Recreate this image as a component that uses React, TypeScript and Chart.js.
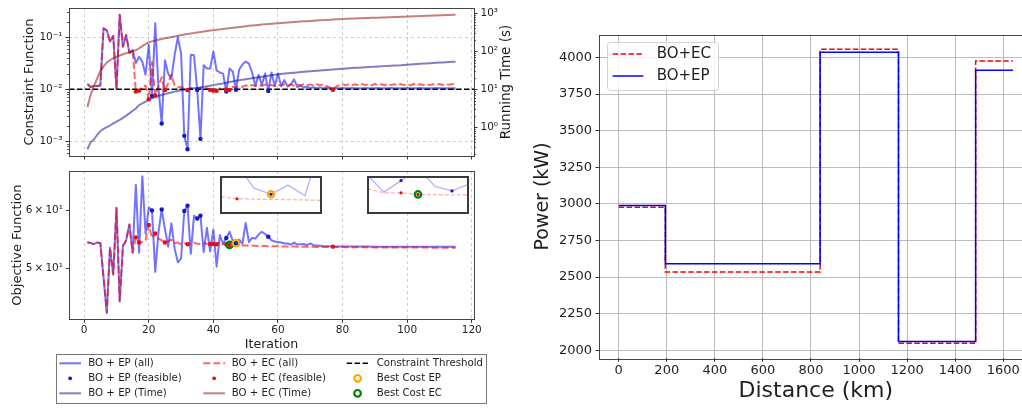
import React, { useEffect, useRef } from 'react';
import { Chart, registerables } from 'chart.js';

Chart.register(...registerables);

// ---------------- data ----------------
const ITERATIONS: number[] = Array.from({ length: 115 }, (_, k) => k + 1);

const EP_CONSTRAINT = [
  0.0127, 0.011, 0.0116, 0.0116, 0.0118, 0.149, 0.135, 0.082, 0.106, 0.0101,
  0.27, 0.066, 0.11, 0.05, 0.057, 0.032, 0.042, 0.034, 0.019, 0.071,
  0.0074, 0.186, 0.0105, 0.0022, 0.036, 0.02, 0.016, 0.045, 0.1, 0.049,
  0.00127, 0.0007, 0.046, 0.045, 0.0097, 0.00111, 0.029, 0.025, 0.025, 0.053,
  0.023, 0.021, 0.02, 0.009, 0.025, 0.022, 0.0098, 0.024, 0.03, 0.034,
  0.031, 0.021, 0.0115, 0.019, 0.012, 0.02, 0.0092, 0.021, 0.0115, 0.02,
  0.0115, 0.015, 0.0112, 0.0125, 0.0155, 0.011, 0.0118, 0.0108, 0.0112, 0.0106,
  0.0109, 0.0105, 0.0108, 0.0104, 0.0107, 0.0104, 0.0106, 0.0105, 0.0104, 0.0106,
  0.0105, 0.0104, 0.0106, 0.0105, 0.0104, 0.0105, 0.0106, 0.0104, 0.0105, 0.0104,
  0.0106, 0.0105, 0.0104, 0.0105, 0.0106, 0.0104, 0.0105, 0.0104, 0.0105, 0.0106,
  0.0104, 0.0105, 0.0104, 0.0106, 0.0105, 0.0104, 0.0105, 0.0104, 0.0106, 0.0105,
  0.0104, 0.0105, 0.0105, 0.0104, 0.0105,
];

const EC_CONSTRAINT = [
  0.0127, 0.011, 0.0116, 0.0116, 0.0118, 0.149, 0.135, 0.082, 0.106, 0.0101,
  0.27, 0.066, 0.11, 0.05, 0.057, 0.009, 0.0094, 0.0112, 0.0118, 0.0064,
  0.033, 0.0076, 0.0115, 0.017, 0.0096, 0.013, 0.019, 0.0118, 0.0108, 0.0112,
  0.0105, 0.0096, 0.0106, 0.0103, 0.0104, 0.0107, 0.0103, 0.0105, 0.0097, 0.0094,
  0.0093, 0.0104, 0.0107, 0.0098, 0.0097, 0.0112, 0.0108, 0.0116, 0.0111, 0.0119,
  0.0113, 0.0121, 0.0115, 0.0122, 0.0116, 0.0123, 0.0117, 0.0121, 0.0115, 0.0122,
  0.0117, 0.0124, 0.0118, 0.0123, 0.0117, 0.0124, 0.0118, 0.0125, 0.0119, 0.0124,
  0.0118, 0.0125, 0.0119, 0.0124, 0.0115, 0.011, 0.0097, 0.0112, 0.012, 0.0125,
  0.0119, 0.0126, 0.012, 0.0125, 0.0119, 0.0126, 0.012, 0.0125, 0.0119, 0.0126,
  0.012, 0.0125, 0.0119, 0.0126, 0.012, 0.0125, 0.0119, 0.0126, 0.012, 0.0125,
  0.0119, 0.0126, 0.012, 0.0125, 0.0121, 0.0126, 0.012, 0.0125, 0.0121, 0.0126,
  0.0121, 0.0125, 0.0122, 0.0126, 0.0125,
];

const EP_TIME = [
  0.26, 0.4, 0.47, 0.62, 0.78, 0.9, 1.0, 1.1, 1.25, 1.4,
  1.55, 1.75, 2.0, 2.3, 2.7, 3.1, 3.8, 4.2, 4.7, 5.2,
  5.7, 6.2, 6.6, 7.0, 7.4, 7.8, 8.2, 8.6, 9.0, 9.3,
  9.6, 9.9, 10.2, 10.5, 10.8, 11.1, 11.5, 11.9, 12.3, 12.8,
  13.2, 13.7, 14.2, 14.8, 15.4, 16.0, 16.6, 17.2, 17.7, 18.2,
  18.7, 19.3, 19.9, 20.5, 21.2, 21.9, 22.6, 23.3, 24.0, 24.7,
  25.2, 25.7, 26.2, 26.7, 27.2, 27.7, 28.2, 28.7, 29.2, 29.7,
  30.2, 30.7, 31.2, 31.7, 32.2, 32.7, 33.2, 33.7, 34.2, 34.7,
  35.1, 35.6, 36.0, 36.5, 36.9, 37.4, 37.8, 38.3, 38.7, 39.2,
  39.6, 40.1, 40.5, 41.0, 41.4, 41.9, 42.3, 42.8, 43.6, 44.2,
  44.8, 45.4, 46.0, 46.6, 47.2, 47.8, 48.4, 49.0, 49.6, 50.2,
  50.8, 51.4, 52.0, 52.5, 53.0,
];

const EC_TIME = [
  3.4, 7.1, 12, 19, 30, 40, 50, 58, 65, 71,
  77, 83, 89, 95, 100, 106, 120, 137, 155, 172,
  182, 192, 201, 210, 219, 228, 237, 246, 255, 265,
  275, 285, 295, 305, 314, 323, 332, 341, 350, 359,
  368, 377, 386, 395, 404, 414, 424, 434, 445, 456,
  467, 476, 486, 495, 504, 513, 522, 531, 540, 549,
  557, 565, 573, 581, 589, 597, 605, 613, 621, 629,
  637, 645, 653, 661, 669, 677, 685, 693, 700, 708,
  714, 719, 725, 730, 736, 741, 747, 752, 758, 763,
  769, 774, 780, 785, 791, 796, 802, 807, 813, 820,
  826, 833, 840, 846, 853, 860, 866, 873, 880, 886,
  893, 900, 906, 913, 920,
];

const EP_OBJECTIVE = [
  54.25, 54.1, 53.95, 54.2, 54.1, 48.5, 43.4, 53.3, 49.0, 60.5,
  45.0, 53.6, 54.6, 57.4, 52.5, 65.1, 52.5, 66.9, 55.8, 60.6,
  60.0, 49.4, 56.0, 60.2, 56.6, 53.5, 57.6, 53.2, 50.9, 51.5,
  59.9, 60.9, 52.3, 59.0, 58.5, 59.0, 52.6, 56.8, 52.7, 56.5,
  50.2, 55.5, 54.0, 55.0, 56.1, 54.5, 54.1, 54.7, 54.0, 57.7,
  54.3, 55.0, 54.9, 55.6, 56.1, 55.7, 55.2, 54.6, 54.4, 54.3,
  54.2, 54.05, 54.05, 53.85, 54.2, 53.85, 53.9, 53.95, 53.75, 54.05,
  53.75, 53.7, 53.65, 53.6, 53.58, 53.56, 53.55, 53.55, 53.54, 53.54,
  53.53, 53.53, 53.52, 53.52, 53.52, 53.51, 53.51, 53.51, 53.5, 53.5,
  53.5, 53.5, 53.5, 53.5, 53.5, 53.5, 53.5, 53.5, 53.5, 53.5,
  53.5, 53.5, 53.5, 53.5, 53.5, 53.5, 53.5, 53.5, 53.5, 53.5,
  53.5, 53.5, 53.5, 53.5, 53.5,
];

const EC_OBJECTIVE = [
  54.25, 54.1, 53.95, 54.2, 54.1, 48.5, 43.4, 53.3, 49.0, 60.5,
  45.0, 53.6, 54.6, 57.4, 52.5, 55.1, 54.2, 54.3, 54.6, 57.3,
  55.0, 55.8, 54.9, 54.6, 54.2, 54.4, 54.7, 54.1, 54.2, 53.95,
  54.1, 53.9, 54.05, 54.2, 54.0, 53.95, 54.1, 54.0, 53.95, 53.95,
  53.9, 54.3, 53.93, 53.94, 53.8, 53.78, 53.76, 53.75, 53.72, 53.7,
  53.68, 53.66, 53.65, 53.63, 53.62, 53.6, 53.59, 53.58, 53.57, 53.56,
  53.55, 53.54, 53.53, 53.52, 53.51, 53.5, 53.49, 53.49, 53.48, 53.47,
  53.47, 53.46, 53.46, 53.45, 53.45, 53.44, 53.5, 53.44, 53.43, 53.43,
  53.42, 53.42, 53.41, 53.41, 53.4, 53.4, 53.4, 53.39, 53.39, 53.38,
  53.38, 53.38, 53.37, 53.37, 53.37, 53.36, 53.36, 53.36, 53.35, 53.35,
  53.35, 53.35, 53.34, 53.34, 53.34, 53.34, 53.33, 53.33, 53.33, 53.33,
  53.33, 53.32, 53.32, 53.32, 53.32,
];

const EP_FEASIBLE_ITERS = [21, 24, 31, 32, 35, 36, 44, 47, 57];
const EC_FEASIBLE_ITERS = [16, 17, 20, 22, 25, 32, 39, 40, 41, 44, 45, 77];
const BEST_EP_ITER = 47;
const BEST_EC_ITER = 45;
const CONSTRAINT_THRESHOLD = 0.01;

const ITER_TICKS = [0, 20, 40, 60, 80, 100, 120];
const CONSTRAINT_TICKS = [0.001, 0.01, 0.1];
const CONSTRAINT_TICK_LABELS = ['10⁻³', '10⁻²', '10⁻¹'];
const TIME_TICKS = [1, 10, 100, 1000];
const TIME_TICK_LABELS = ['10⁰', '10¹', '10²', '10³'];
const OBJECTIVE_TICKS = [50, 60];
const OBJECTIVE_TICK_LABELS = ['5\u2009×\u200910¹', '6\u2009×\u200910¹'];

const DISTANCE_KM = [0, 194, 838, 1164, 1485, 1640];
const POWER_EC = [2977, 2535, 4055, 2047, 3975, 3975];
const POWER_EP = [2988, 2590, 4035, 2060, 3912, 3912];
const DISTANCE_TICKS = [0, 200, 400, 600, 800, 1000, 1200, 1400, 1600];
const POWER_TICKS = [2000, 2250, 2500, 2750, 3000, 3250, 3500, 3750, 4000];

// ---------------- styles ----------------
const FONT = '"DejaVu Sans", sans-serif';
Chart.defaults.font.family = FONT;
Chart.defaults.color = '#222';

const TEXT = '#1e1e1e';
const TICK = '#333';
const FRAME = '#444';
const GRID_DASH = 'rgba(170,170,170,0.7)';
const GRID_SOLID = 'rgba(176,176,176,0.85)';

const EP_LINE = 'rgba(0,0,255,0.55)';
const EC_LINE = 'rgba(255,0,0,0.6)';
const EP_DOT = 'rgb(25,25,190)';
const EC_DOT = 'rgb(225,15,15)';
const EP_TIME_COLOR = 'rgba(0,0,139,0.5)';
const EC_TIME_COLOR = 'rgba(139,0,0,0.5)';
const BEST_EP_COLOR = '#ffa500';
const BEST_EC_COLOR = '#008000';
const DASH = [7, 3];
const THRESH_DASH = [5.5, 2.4];

const X_MIN = -4.7;
const X_MAX = 120.7;

// ---------------- helpers ----------------
const series = (ys: number[]) => ITERATIONS.map((x, k) => ({ x, y: ys[k] }));
const pick = (ys: number[], iters: number[]) => iters.map((i) => ({ x: i, y: ys[i - 1] }));

function fixSize(w?: number, h?: number) {
  return (s: any) => {
    if (w !== undefined) s.width = w;
    if (h !== undefined) s.height = h;
    s.paddingLeft = 0;
    s.paddingRight = 0;
    s.paddingTop = 0;
    s.paddingBottom = 0;
  };
}
function setTicks(values: number[]) {
  return (s: any) => {
    s.ticks = values.map((v) => ({ value: v }));
  };
}
function labelsFrom(values: number[], labels: string[]) {
  return (v: any) => {
    const k = values.indexOf(v);
    return k >= 0 ? labels[k] : '';
  };
}
const plainNumber = (v: any) => String(v);

function logMinor(min: number, max: number, majors: number[]) {
  const out: number[] = [];
  for (let e = Math.floor(Math.log10(min)); e <= Math.ceil(Math.log10(max)); e++) {
    for (let m = 2; m <= 9; m++) {
      const v = m * Math.pow(10, e);
      if (v >= min && v <= max && majors.indexOf(v) < 0) out.push(v);
    }
  }
  return out;
}

const framePlugin = {
  id: 'frame',
  afterDatasetsDraw(chart: any) {
    const { ctx, chartArea: a } = chart;
    ctx.save();
    ctx.strokeStyle = FRAME;
    ctx.lineWidth = 1;
    ctx.strokeRect(Math.round(a.left) + 0.5, Math.round(a.top) + 0.5, Math.round(a.right - a.left), Math.round(a.bottom - a.top));
    ctx.restore();
  },
};

function minorTicksPlugin(specs: { axis: string; values: number[]; side: 'left' | 'right' }[]) {
  return {
    id: 'minorTicks',
    afterDraw(chart: any) {
      const ctx = chart.ctx;
      ctx.save();
      ctx.strokeStyle = TICK;
      ctx.lineWidth = 0.8;
      for (const s of specs) {
        const sc = chart.scales[s.axis];
        for (const v of s.values) {
          const y = Math.round(sc.getPixelForValue(v)) + 0.5;
          const x0 = s.side === 'left' ? chart.chartArea.left : chart.chartArea.right;
          const x1 = s.side === 'left' ? x0 - 2 : x0 + 2;
          ctx.beginPath();
          ctx.moveTo(x0, y);
          ctx.lineTo(x1, y);
          ctx.stroke();
        }
      }
      ctx.restore();
    },
  };
}

type LegendEntry = { label: string; kind: 'line' | 'dot' | 'ring'; color: string; dash?: number[]; width?: number };

const LEFT_LEGEND: LegendEntry[][] = [
  [
    { label: 'BO + EP (all)', kind: 'line', color: EP_LINE, width: 2 },
    { label: 'BO + EP (feasible)', kind: 'dot', color: EP_DOT },
    { label: 'BO + EP (Time)', kind: 'line', color: EP_TIME_COLOR, width: 2 },
  ],
  [
    { label: 'BO + EC (all)', kind: 'line', color: EC_LINE, dash: DASH, width: 2 },
    { label: 'BO + EC (feasible)', kind: 'dot', color: EC_DOT },
    { label: 'BO + EC (Time)', kind: 'line', color: EC_TIME_COLOR, width: 2 },
  ],
  [
    { label: 'Constraint Threshold', kind: 'line', color: '#000', dash: THRESH_DASH, width: 1.5 },
    { label: 'Best Cost EP', kind: 'ring', color: BEST_EP_COLOR },
    { label: 'Best Cost EC', kind: 'ring', color: BEST_EC_COLOR },
  ],
];

function drawLegendEntry(ctx: CanvasRenderingContext2D, e: LegendEntry, hx: number, hlen: number, tx: number, y: number, font: string) {
  ctx.save();
  if (e.kind === 'line') {
    ctx.strokeStyle = e.color;
    ctx.lineWidth = e.width || 1.5;
    ctx.setLineDash(e.dash || []);
    ctx.beginPath();
    ctx.moveTo(hx, y);
    ctx.lineTo(hx + hlen, y);
    ctx.stroke();
  } else if (e.kind === 'dot') {
    ctx.fillStyle = e.color;
    ctx.beginPath();
    ctx.arc(hx + hlen / 2, y, 1.9, 0, Math.PI * 2);
    ctx.fill();
  } else {
    ctx.strokeStyle = e.color;
    ctx.lineWidth = 2.2;
    ctx.beginPath();
    ctx.arc(hx + hlen / 2, y, 3.3, 0, Math.PI * 2);
    ctx.stroke();
  }
  ctx.setLineDash([]);
  ctx.fillStyle = TEXT;
  ctx.font = font;
  ctx.textAlign = 'left';
  ctx.textBaseline = 'middle';
  ctx.fillText(e.label, tx, y);
  ctx.restore();
}

const leftLegendPlugin = {
  id: 'leftLegend',
  afterDraw(chart: any) {
    const ctx = chart.ctx as CanvasRenderingContext2D;
    const offY = 165;
    ctx.save();
    ctx.fillStyle = 'rgba(255,255,255,0.9)';
    ctx.fillRect(56.5, 354.5 - offY, 430, 49);
    ctx.strokeStyle = '#777';
    ctx.lineWidth = 1;
    ctx.strokeRect(56.5, 354.5 - offY, 430, 49);
    ctx.restore();
    const hx = [59.3, 203.3, 346.7];
    const tx = [88.3, 231.7, 376.7];
    const rows = [363.3, 378.3, 393.3];
    LEFT_LEGEND.forEach((col, c) =>
      col.forEach((e, r) => drawLegendEntry(ctx, e, hx[c], 21.7, tx[c], rows[r] - offY, `10.2px ${FONT}`))
    );
  },
};

const RIGHT_LEGEND: LegendEntry[] = [
  { label: 'BO+EC', kind: 'line', color: '#ff0000', dash: [5.5, 2.4], width: 1.5 },
  { label: 'BO+EP', kind: 'line', color: '#0000ff', width: 1.5 },
];

function roundRect(ctx: CanvasRenderingContext2D, x: number, y: number, w: number, h: number, r: number) {
  ctx.beginPath();
  ctx.moveTo(x + r, y);
  ctx.lineTo(x + w - r, y);
  ctx.arcTo(x + w, y, x + w, y + r, r);
  ctx.lineTo(x + w, y + h - r);
  ctx.arcTo(x + w, y + h, x + w - r, y + h, r);
  ctx.lineTo(x + r, y + h);
  ctx.arcTo(x, y + h, x, y + h - r, r);
  ctx.lineTo(x, y + r);
  ctx.arcTo(x, y, x + r, y, r);
  ctx.closePath();
}

const rightLegendPlugin = {
  id: 'rightLegend',
  afterDraw(chart: any) {
    const ctx = chart.ctx as CanvasRenderingContext2D;
    ctx.save();
    roundRect(ctx, 77.5, 42.5, 111, 48, 3);
    ctx.fillStyle = 'rgba(255,255,255,0.85)';
    ctx.fill();
    ctx.strokeStyle = '#d3d3d3';
    ctx.lineWidth = 1;
    ctx.stroke();
    ctx.restore();
    const rows = [54, 76];
    RIGHT_LEGEND.forEach((e, r) => drawLegendEntry(ctx, e, 82.7, 30.6, 126.7, rows[r], `15px ${FONT}`));
  },
};

const runningTimeTitlePlugin = {
  id: 'rtTitle',
  afterDraw(chart: any) {
    const ctx = chart.ctx as CanvasRenderingContext2D;
    const a = chart.chartArea;
    ctx.save();
    ctx.translate(506, (a.top + a.bottom) / 2);
    ctx.rotate(-Math.PI / 2);
    ctx.fillStyle = TEXT;
    ctx.font = `13.5px ${FONT}`;
    ctx.textAlign = 'center';
    ctx.textBaseline = 'middle';
    ctx.fillText('Running Time (s)', 0, 0);
    ctx.restore();
  },
};

const insetBgPlugin = {
  id: 'insetBg',
  beforeDraw(chart: any) {
    const ctx = chart.ctx;
    ctx.save();
    ctx.fillStyle = '#fff';
    ctx.fillRect(0, 0, chart.width, chart.height);
    ctx.restore();
  },
  afterDraw(chart: any) {
    const ctx = chart.ctx;
    ctx.save();
    ctx.strokeStyle = '#3a3a3a';
    ctx.lineWidth = 2;
    ctx.strokeRect(1, 1, chart.width - 2, chart.height - 2);
    ctx.restore();
  },
};

const baseOptions = {
  responsive: false,
  animation: false as const,
  events: [] as any[],
  plugins: { legend: { display: false }, tooltip: { enabled: false } },
};

const lineDs = (extra: any) => ({ pointRadius: 0, pointHoverRadius: 0, fill: false, tension: 0, borderJoinStyle: 'round', ...extra });
const dotDs = (extra: any) => ({ showLine: false, pointRadius: 2.2, pointHoverRadius: 2.2, pointBorderWidth: 0, ...extra });

// ---------------- chart configs ----------------
const C_MIN = 5.2e-4;
const C_MAX = 0.365;
const T_MIN = 0.173;
const T_MAX = 1380;

function topConfig(): any {
  return {
    type: 'line',
    data: {
      datasets: [
        dotDs({ data: pick(EC_CONSTRAINT, EC_FEASIBLE_ITERS), pointBackgroundColor: EC_DOT, yAxisID: 'y', order: 1 }),
        dotDs({ data: pick(EP_CONSTRAINT, EP_FEASIBLE_ITERS), pointBackgroundColor: EP_DOT, yAxisID: 'y', order: 2 }),
        lineDs({ data: series(EP_TIME), borderColor: EP_TIME_COLOR, borderWidth: 2, yAxisID: 'y2', order: 3 }),
        lineDs({ data: series(EC_TIME), borderColor: EC_TIME_COLOR, borderWidth: 2, yAxisID: 'y2', order: 4 }),
        lineDs({
          data: [{ x: X_MIN, y: CONSTRAINT_THRESHOLD }, { x: X_MAX, y: CONSTRAINT_THRESHOLD }],
          borderColor: '#000', borderWidth: 1.6, borderDash: THRESH_DASH, yAxisID: 'y', order: 5,
        }),
        lineDs({ data: series(EC_CONSTRAINT), borderColor: EC_LINE, borderWidth: 2, borderDash: DASH, yAxisID: 'y', order: 6 }),
        lineDs({ data: series(EP_CONSTRAINT), borderColor: EP_LINE, borderWidth: 2, yAxisID: 'y', order: 7 }),
      ],
    },
    options: {
      ...baseOptions,
      layout: { padding: { top: 8, left: 0, right: 0, bottom: 0 }, autoPadding: false },
      scales: {
        x: {
          type: 'linear', min: X_MIN, max: X_MAX,
          afterBuildTicks: setTicks(ITER_TICKS), afterFit: fixSize(undefined, 8),
          ticks: { display: false },
          grid: { color: GRID_DASH, lineWidth: 0.8, tickColor: TICK, tickLength: 3.5, tickWidth: 1 },
          border: { display: false, dash: [3, 3] },
        },
        y: {
          type: 'logarithmic', position: 'left', min: C_MIN, max: C_MAX,
          afterBuildTicks: setTicks(CONSTRAINT_TICKS), afterFit: fixSize(69),
          ticks: { callback: labelsFrom(CONSTRAINT_TICKS, CONSTRAINT_TICK_LABELS), font: { size: 10.5 }, color: TEXT, padding: 3, autoSkip: false },
          grid: { color: GRID_DASH, lineWidth: 0.8, tickColor: TICK, tickLength: 3.5, tickWidth: 1 },
          border: { display: false, dash: [3, 3] },
          title: { display: true, text: 'Constraint Function', font: { size: 13 }, color: TEXT, padding: { top: 22, bottom: 0 } },
        },
        y2: {
          type: 'logarithmic', position: 'right', min: T_MIN, max: T_MAX,
          afterBuildTicks: setTicks(TIME_TICKS), afterFit: fixSize(56),
          ticks: { callback: labelsFrom(TIME_TICKS, TIME_TICK_LABELS), font: { size: 10.5 }, color: TEXT, padding: 3, autoSkip: false },
          grid: { drawOnChartArea: false, tickColor: TICK, tickLength: 3.5, tickWidth: 1 },
          border: { display: false },
        },
      },
    },
    plugins: [
      framePlugin,
      minorTicksPlugin([
        { axis: 'y', values: logMinor(C_MIN, C_MAX, CONSTRAINT_TICKS), side: 'left' },
        { axis: 'y2', values: logMinor(T_MIN, T_MAX, TIME_TICKS), side: 'right' },
      ]),
      runningTimeTitlePlugin,
    ],
  };
}

function bottomConfig(): any {
  return {
    type: 'line',
    data: {
      datasets: [
        dotDs({ data: pick(EP_OBJECTIVE, [BEST_EP_ITER]), pointRadius: 3.3, pointBorderWidth: 2.2, pointBorderColor: BEST_EP_COLOR, pointBackgroundColor: 'rgba(0,0,0,0)', order: 0 }),
        dotDs({ data: pick(EC_OBJECTIVE, [BEST_EC_ITER]), pointRadius: 3.3, pointBorderWidth: 2.2, pointBorderColor: BEST_EC_COLOR, pointBackgroundColor: 'rgba(0,0,0,0)', order: 0 }),
        dotDs({ data: pick(EC_OBJECTIVE, EC_FEASIBLE_ITERS), pointBackgroundColor: EC_DOT, order: 1 }),
        dotDs({ data: pick(EP_OBJECTIVE, EP_FEASIBLE_ITERS), pointBackgroundColor: EP_DOT, order: 2 }),
        lineDs({ data: series(EC_OBJECTIVE), borderColor: EC_LINE, borderWidth: 2, borderDash: DASH, order: 3 }),
        lineDs({ data: series(EP_OBJECTIVE), borderColor: EP_LINE, borderWidth: 2, order: 4 }),
      ],
    },
    options: {
      ...baseOptions,
      layout: { padding: { top: 6, left: 0, right: 56, bottom: 56 }, autoPadding: false },
      scales: {
        x: {
          type: 'linear', min: X_MIN, max: X_MAX,
          afterBuildTicks: setTicks(ITER_TICKS), afterFit: fixSize(undefined, 32.7),
          ticks: { font: { size: 10.5 }, color: TEXT, padding: 1, autoSkip: false, maxRotation: 0 },
          grid: { color: GRID_DASH, lineWidth: 0.8, tickColor: TICK, tickLength: 3.5, tickWidth: 1 },
          border: { display: false, dash: [3, 3] },
          title: { display: true, text: 'Iteration', font: { size: 12.6 }, color: TEXT, padding: { top: 0, bottom: 0 } },
        },
        y: {
          type: 'logarithmic', position: 'left', min: 42.5, max: 68.0,
          afterBuildTicks: setTicks(OBJECTIVE_TICKS), afterFit: fixSize(69),
          ticks: { callback: labelsFrom(OBJECTIVE_TICKS, OBJECTIVE_TICK_LABELS), font: { size: 10.5 }, color: TEXT, padding: 3, autoSkip: false },
          grid: { drawOnChartArea: false, tickColor: TICK, tickLength: 3, tickWidth: 1 },
          border: { display: false },
          title: { display: true, text: 'Objective Function', font: { size: 13 }, color: TEXT, padding: { top: 10, bottom: 0 } },
        },
      },
    },
    plugins: [framePlugin, leftLegendPlugin],
  };
}

function insetConfig(xMin: number, xMax: number, yMin: number, yMax: number, bestIter: number, bestSeries: number[], bestColor: string): any {
  return {
    type: 'line',
    data: {
      datasets: [
        dotDs({ data: pick(bestSeries, [bestIter]), pointRadius: 3.2, pointBorderWidth: 2.2, pointBorderColor: bestColor, pointBackgroundColor: 'rgba(0,0,0,0)', order: 0 }),
        dotDs({ data: pick(EC_OBJECTIVE, EC_FEASIBLE_ITERS), pointRadius: 1.6, pointBackgroundColor: EC_DOT, order: 1 }),
        dotDs({ data: pick(EP_OBJECTIVE, EP_FEASIBLE_ITERS), pointRadius: 1.6, pointBackgroundColor: EP_DOT, order: 2 }),
        lineDs({ data: series(EC_OBJECTIVE), borderColor: 'rgba(255,0,0,0.3)', borderWidth: 1.3, borderDash: [4, 2], order: 3 }),
        lineDs({ data: series(EP_OBJECTIVE), borderColor: 'rgba(0,0,255,0.3)', borderWidth: 1.3, order: 4 }),
      ],
    },
    options: {
      ...baseOptions,
      layout: { padding: 0, autoPadding: false },
      scales: {
        x: { type: 'linear', display: false, min: xMin, max: xMax },
        y: { type: 'linear', display: false, min: yMin, max: yMax },
      },
    },
    plugins: [insetBgPlugin],
  };
}

function rightConfig(): any {
  const stepDs = (xs: number[], ys: number[], extra: any) =>
    lineDs({ data: xs.map((x, k) => ({ x, y: ys[k] })), stepped: 'before', borderWidth: 1.5, borderJoinStyle: 'miter', ...extra });
  return {
    type: 'line',
    data: {
      datasets: [
        stepDs(DISTANCE_KM, POWER_EP, { borderColor: '#0000ff', order: 0 }),
        stepDs(DISTANCE_KM, POWER_EC, { borderColor: '#ff0000', borderDash: [5.5, 2.4], order: 1 }),
      ],
    },
    options: {
      ...baseOptions,
      layout: { padding: { top: 34.7, left: 0, right: 7.4, bottom: 0 }, autoPadding: false },
      scales: {
        x: {
          type: 'linear', min: -82, max: 1722,
          afterBuildTicks: setTicks(DISTANCE_TICKS), afterFit: fixSize(undefined, 49.7),
          ticks: { callback: plainNumber, font: { size: 13 }, color: TEXT, padding: 1, autoSkip: false, maxRotation: 0 },
          grid: { color: GRID_SOLID, lineWidth: 1, tickColor: TICK, tickLength: 3.5, tickWidth: 1 },
          border: { display: false },
          title: { display: true, text: 'Distance (km)', font: { size: 22 }, color: TEXT, padding: { top: 0, bottom: 4 } },
        },
        y: {
          type: 'linear', min: 1945, max: 4155,
          afterBuildTicks: setTicks(POWER_TICKS), afterFit: fixSize(69),
          ticks: { callback: plainNumber, font: { size: 13 }, color: TEXT, padding: 3.5, autoSkip: false },
          grid: { color: GRID_SOLID, lineWidth: 1, tickColor: TICK, tickLength: 3.5, tickWidth: 1 },
          border: { display: false },
          title: { display: true, text: 'Power (kW)', font: { size: 19 }, color: TEXT, padding: { top: 1.3, bottom: 0 } },
        },
      },
    },
    plugins: [framePlugin, rightLegendPlugin],
  };
}

// ---------------- component ----------------
export default function App() {
  const topRef = useRef<HTMLCanvasElement>(null);
  const bottomRef = useRef<HTMLCanvasElement>(null);
  const inset1Ref = useRef<HTMLCanvasElement>(null);
  const inset2Ref = useRef<HTMLCanvasElement>(null);
  const rightRef = useRef<HTMLCanvasElement>(null);

  useEffect(() => {
    const charts: Chart[] = [];
    charts.push(new Chart(topRef.current as HTMLCanvasElement, topConfig()));
    charts.push(new Chart(bottomRef.current as HTMLCanvasElement, bottomConfig()));
    charts.push(new Chart(inset1Ref.current as HTMLCanvasElement, insetConfig(44, 50, 52.8, 55.3, BEST_EP_ITER, EP_OBJECTIVE, BEST_EP_COLOR)));
    charts.push(new Chart(inset2Ref.current as HTMLCanvasElement, insetConfig(42, 48, 52.1, 55.4, BEST_EC_ITER, EC_OBJECTIVE, BEST_EC_COLOR)));
    charts.push(new Chart(rightRef.current as HTMLCanvasElement, rightConfig()));
    return () => charts.forEach((c) => c.destroy());
  }, []);

  const abs = (left: number, top: number, w: number, h: number): React.CSSProperties => ({
    position: 'absolute', left, top, width: w, height: h, display: 'block',
  });

  return (
    <div style={{ position: 'fixed', left: 0, top: 0, width: 1022, height: 408, overflow: 'hidden', background: '#fff' }}>
      <canvas ref={topRef} width={530} height={164} style={abs(0, 0, 530, 164)} />
      <canvas ref={bottomRef} width={530} height={243} style={abs(0, 165, 530, 243)} />
      <canvas ref={inset1Ref} width={102} height={38} style={abs(220, 176, 102, 38)} />
      <canvas ref={inset2Ref} width={102} height={38} style={abs(367, 176, 102, 38)} />
      <canvas ref={rightRef} width={510} height={408} style={abs(530, 0, 510, 408)} />
    </div>
  );
}
